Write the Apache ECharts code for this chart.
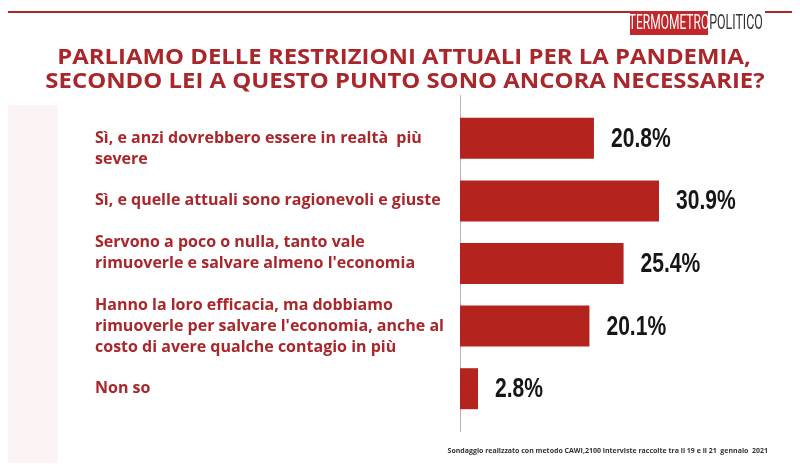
<!DOCTYPE html>
<html>
<head>
<meta charset="utf-8">
<script src="https://cdn.jsdelivr.net/npm/echarts@6/dist/echarts.min.js"></script>
<style>
html,body{margin:0;padding:0;background:#fff;}
#chart{width:800px;height:471px;}
</style>
</head>
<body>
<div id="chart"></div>
<script>
const titleLines = ["PARLIAMO DELLE RESTRIZIONI ATTUALI PER LA PANDEMIA,", "SECONDO LEI A QUESTO PUNTO SONO ANCORA NECESSARIE?"];
const categories = [
  "Sì, e anzi dovrebbero essere in realtà  più\nsevere",
  "Sì, e quelle attuali sono ragionevoli e giuste",
  "Servono a poco o nulla, tanto vale\nrimuoverle e salvare almeno l'economia",
  "Hanno la loro efficacia, ma dobbiamo\nrimuoverle per salvare l'economia, anche al\ncosto di avere qualche contagio in più",
  "Non so"
];
const values = [20.8, 30.9, 25.4, 20.1, 2.8];
const footnote = "Sondaggio realizzato con metodo CAWI,2100 interviste raccolte tra il 19 e il 21  gennaio  2021";

const RED = '#b5231f';
const DARKRED = '#a9262b';
// vertical nudges of the category texts (blank lines before / after), as in the original slide
const labelNudge = [[1, 0], [0, 0], [0, 1], [0, 0], [0, 0]];

const graphics = [
  {type: 'rect', z: -10, shape: {x: 8, y: 105, width: 50, height: 358}, style: {fill: '#fcf4f4'}},
  {type: 'line', shape: {x1: 8, y1: 12, x2: 630, y2: 12}, style: {stroke: DARKRED, lineWidth: 2}},
  {type: 'line', shape: {x1: 765, y1: 12, x2: 792, y2: 12}, style: {stroke: DARKRED, lineWidth: 2}},
  {type: 'rect', shape: {x: 630, y: 11, width: 78, height: 24}, style: {fill: '#c0282b'}},
  {type: 'text', x: 669, y: 24, scaleX: 0.6, style: {text: 'TERMOMETRO', fill: '#fff', font: '20px Roboto, sans-serif', align: 'center', verticalAlign: 'middle'}},
  {type: 'text', x: 736, y: 24, scaleX: 0.62, style: {text: 'POLITICO', fill: '#333', font: '20px Roboto, sans-serif', align: 'center', verticalAlign: 'middle'}},
  {type: 'text', x: 404, y: 58, scaleX: 1.138, style: {text: titleLines[0], fill: DARKRED, font: 'bold 21px "Open Sans", "Noto Sans", sans-serif', align: 'center', verticalAlign: 'middle'}},
  {type: 'text', x: 405, y: 82, scaleX: 1.138, style: {text: titleLines[1], fill: DARKRED, font: 'bold 21px "Open Sans", "Noto Sans", sans-serif', align: 'center', verticalAlign: 'middle'}},
  {type: 'line', shape: {x1: 460.5, y1: 95, x2: 460.5, y2: 432}, style: {stroke: '#b8b8b8', lineWidth: 1}},
  {type: 'text', right: 32, top: 447, style: {text: footnote, fill: '#333', font: 'bold 7px "Open Sans", "Noto Sans", sans-serif'}}
];

const chart = echarts.init(document.getElementById('chart'), null, {renderer: 'canvas'});
chart.setOption({
  backgroundColor: '#ffffff',
  animation: false,
  grid: {left: 460, right: 18, top: 107, bottom: 51, containLabel: false},
  xAxis: {type: 'value', min: 0, max: 50, show: false},
  yAxis: {
    type: 'category', inverse: true, data: categories,
    axisLine: {show: false}, axisTick: {show: false}, splitLine: {show: false},
    axisLabel: {
      align: 'left', margin: 365, color: DARKRED,
      fontFamily: '"Open Sans", "Noto Sans", sans-serif', fontWeight: 'bold',
      fontSize: 16, lineHeight: 21,
      formatter: function (value, idx) {
        const n = labelNudge[idx] || [0, 0];
        return '\n'.repeat(n[0]) + value + '\n'.repeat(n[1]);
      }
    }
  },
  graphic: graphics,
  series: [{
    type: 'bar', data: values, barWidth: 41,
    itemStyle: {color: RED}
  }]
});

// value labels placed through the chart's own scales
const valueLabels = values.map((v, i) => {
  const p = chart.convertToPixel({xAxisIndex: 0, yAxisIndex: 0}, [v, i]);
  return {
    type: 'text', x: p[0] + 17, y: p[1] + 1, scaleX: 0.78,
    style: {
      text: v.toFixed(1) + '%', fill: '#161616',
      font: 'bold 27px "Liberation Sans", Arial, sans-serif',
      align: 'left', verticalAlign: 'middle'
    }
  };
});
chart.setOption({graphic: graphics.concat(valueLabels)});
</script>
</body>
</html>
